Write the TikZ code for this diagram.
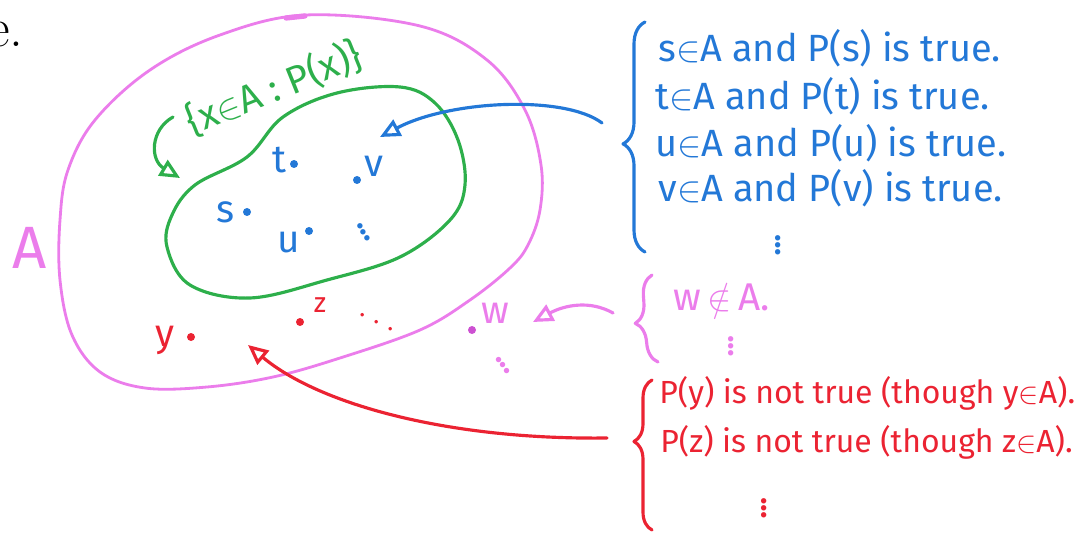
\documentclass[tikz,border=0pt]{standalone}
\usepackage{fontspec}
\newfontfamily\handfont{Fira Sans}
\usetikzlibrary{%
        arrows.meta,%
        decorations.pathreplacing%
    }
\definecolor{handblue}{RGB}{35,120,215}
\definecolor{handgreen}{RGB}{45,175,75}
\definecolor{handpink}{RGB}{235,125,235}
\definecolor{handviolet}{RGB}{205,80,210}
\definecolor{handred}{RGB}{235,35,50}
\tikzset{
  pen/.style={line width=1.8pt,line cap=round,line join=round},
  opentip/.style={-{Triangle[open,length=0.4cm,width=0.36cm]}},
  hand/.style={font=\handfont\fontsize{22}{26}\selectfont,inner sep=0pt},
  line/.style={hand,anchor=base west},
  pt/.style={circle,fill,inner sep=0pt,minimum size=0.16cm},
  curly/.style={pen,decorate,decoration={brace,amplitude=#1}}
}

\begin{document}
\begin{tikzpicture}[x=0.02cm,y=-0.02cm]
      \useasboundingbox (0,0) rectangle (1077,533);
      \node[anchor=base west,inner sep=0pt,font=\fontsize{31.6}{32}\selectfont]
        (etail) at (-13,47) {e.};% end of the sentence above

      % set A
      \draw[pen,handpink,line width=1.6pt] plot[smooth cycle,tension=0.6] coordinates {
        (306,15) (420,26) (487,60) (525,110) (541,165) (540,210) (528,245)
        (510,268) (470,300) (420,330) (340,358) (273,377) (207,387) (145,388)
        (100,372) (72,335) (60,280) (60,220) (68,170) (95,120) (150,70) (220,35)};
      \draw[handpink,line width=3pt,line cap=round] (286,18) -- (305,16);% pen mark
      \node[hand,handpink,font=\handfont\fontsize{34}{34}\selectfont] (Alabel) at (30,248) {A};

      % set {x in A : P(x)}
      \draw[pen,handgreen] plot[smooth cycle,tension=0.6] coordinates {
        (167,247) (172,215) (195,185) (247,157) (283,117) (337,93) (400,87)
        (435,103) (458,140) (465,185) (450,220) (400,257) (327,280) (250,298)
        (190,285)};
      \node[hand,handgreen,rotate=22,font=\handfont\fontsize{22}{24}\selectfont]
        (setlabel) at (274,88) {\{x$\in$A : P(x)\}};
      \coordinate (greentail) at (173,117);
      \coordinate (greentip) at (180,178);
      \draw[pen,handgreen,opentip] (greentail) .. controls (150,130) and (150,160) .. (greentip);

      % points with P true
      \node[pt,handblue] (sdot) at (247,212) {};
      \node[hand,handblue] (slabel) at (226,212) {s};
      \node[pt,handblue] (tdot) at (294,164) {};
      \node[hand,handblue] (tlabel) at (279,160) {t};
      \node[pt,handblue] (udot) at (309,231) {};
      \node[hand,handblue] (ulabel) at (289,243) {u};
      \node[pt,handblue] (vdot) at (357,180) {};
      \node[hand,handblue] (vlabel) at (374,166) {v};
      \node[hand,handblue,rotate=30] (inmore) at (361,228) {$\vdots$};

      % points in A with P false
      \node[pt,handred] (ydot) at (191,337) {};
      \node[hand,handred] (ylabel) at (165,340) {y};
      \node[pt,handred] (zdot) at (300,322) {};
      \node[hand,handred,font=\handfont\fontsize{16}{18}\selectfont] (zlabel) at (320,305) {z};
      \node[hand,handred,rotate=-27] (outmore) at (377,322) {$\ldots$};

      % point outside A
      \node[pt,handviolet] (wdot) at (472,330) {};
      \node[hand,handpink] (wlabel) at (495,313) {w};
      \node[hand,handpink,rotate=35] (wmore) at (500,361) {$\vdots$};

      % blue list
      \draw[curly=0.44cm,handblue,decoration={aspect=0.47}] (645,252) -- (645,22);
      \node[line,handblue,font=\handfont\fontsize{21.6}{26}\selectfont] (sline) at (658,62) {s$\in$A and P(s) is true.};
      \node[line,handblue,font=\handfont\fontsize{21.6}{26}\selectfont] (tline) at (655,110) {t$\in$A and P(t) is true.};
      \node[line,handblue,font=\handfont\fontsize{21.6}{26}\selectfont] (uline) at (655,157) {u$\in$A and P(u) is true.};
      \node[line,handblue,font=\handfont\fontsize{21.6}{26}\selectfont] (vline) at (658,202) {v$\in$A and P(v) is true.};
      \node[hand,handblue] (bluemore) at (778,240) {$\vdots$};
      \coordinate (bluetail) at (602,123);
      \coordinate (bluetip) at (380,137);
      \draw[pen,handblue,opentip] (bluetail) .. controls (565,95) and (450,100) .. (bluetip);

      % pink list
      \draw[curly=0.4cm,handpink,decoration={aspect=0.46}] (658,362) -- (652,275);
      \node[line,handpink] (wline) at (673,310) {w\,$\notin$\,A.};
      \node[hand,handpink] (pinkmore) at (731,341) {$\vdots$};
      \coordinate (pinktail) at (613,313);
      \coordinate (pinktip) at (533,322);
      \draw[pen,handpink,opentip] (pinktail) .. controls (590,300) and (565,305) .. (pinktip);

      % red list
      \draw[curly=0.36cm,handred,decoration={aspect=0.59}] (652,530) -- (652,380);
      \node[line,handred,font=\handfont\fontsize{18.2}{22}\selectfont] (yline) at (659,403) {P(y) is not true (though y$\in$A).};
      \node[line,handred,font=\handfont\fontsize{18.2}{22}\selectfont] (zline) at (660,452) {P(z) is not true (though z$\in$A).};
      \node[hand,handred] (redmore) at (764,503) {$\vdots$};
      \coordinate (redtail) at (607,438);
      \coordinate (redtip) at (248,345);
      \draw[pen,handred,opentip] (redtail) .. controls (450,440) and (320,405) .. (redtip);
\end{tikzpicture}
\end{document}
